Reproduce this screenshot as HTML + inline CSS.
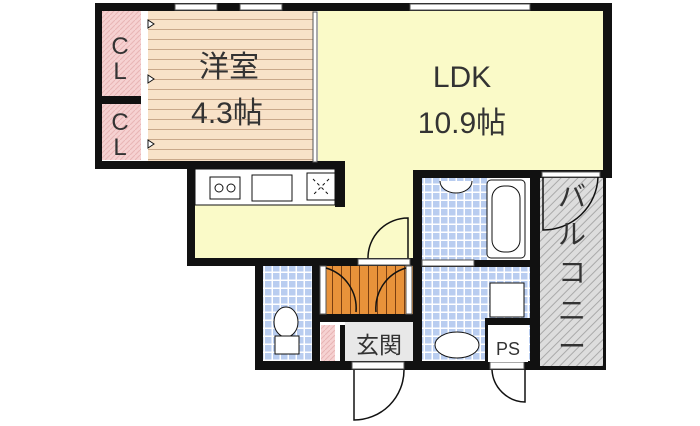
<!DOCTYPE html>
<html><head><meta charset="utf-8"><style>
body{margin:0;background:#fff;width:700px;height:426px;overflow:hidden}
svg{display:block}
text{font-family:"Liberation Sans","Noto Sans CJK JP",sans-serif;fill:#333}
</style></head><body>
<svg width="700" height="426" viewBox="0 0 700 426" xmlns="http://www.w3.org/2000/svg">
<defs>
<pattern id="wood" width="10" height="10" patternUnits="userSpaceOnUse"><rect width="10" height="10" fill="#f8e2c8"/><line x1="0" y1="9.5" x2="10" y2="9.5" stroke="#c9a88a" stroke-width="1"/></pattern>
<pattern id="pink" width="5" height="5" patternUnits="userSpaceOnUse"><rect width="5" height="5" fill="#f6d2d2"/><line x1="0" y1="5" x2="5" y2="0" stroke="#e8b5b5" stroke-width="1"/></pattern>
<pattern id="tile" width="8" height="8" patternUnits="userSpaceOnUse"><rect width="8" height="8" fill="#fff"/><rect x="1" y="1" width="6.5" height="6.5" fill="#b9cdf0"/></pattern>
<pattern id="gray" width="6" height="6" patternUnits="userSpaceOnUse" patternTransform="rotate(45)"><rect width="6" height="6" fill="#ddd"/><line x1="0" y1="0" x2="0" y2="6" stroke="#aaa" stroke-width="2"/></pattern>
<pattern id="orange" width="9" height="9" patternUnits="userSpaceOnUse"><rect width="9" height="9" fill="#e8923a"/><line x1="8.5" y1="0" x2="8.5" y2="9" stroke="#7a3e10" stroke-width="1"/></pattern>
</defs>
<rect x="318" y="10" width="286" height="162" fill="#fafac8"/>
<rect x="195" y="168" width="220" height="92" fill="#fafac8"/>
<rect x="148" y="10" width="166" height="152" fill="url(#wood)"/>
<rect x="101" y="10" width="40" height="86" fill="url(#pink)"/>
<rect x="101" y="104" width="40" height="56" fill="url(#pink)"/>
<rect x="141" y="10" width="7" height="152" fill="#fff"/>
<rect x="540" y="175" width="63" height="193" fill="url(#gray)"/>
<rect x="422" y="178" width="65" height="82" fill="url(#tile)"/>
<rect x="422" y="266" width="108" height="96" fill="url(#tile)"/>
<rect x="263" y="266" width="50" height="96" fill="url(#tile)"/>
<rect x="320" y="266" width="94" height="48" fill="url(#orange)"/>
<rect x="345" y="322" width="68" height="40" fill="#e8e8e8"/>
<rect x="321" y="325" width="14" height="37" fill="url(#pink)"/>
<g fill="#111">
<rect x="95" y="3" width="517" height="8"/>
<rect x="95" y="3" width="7" height="166"/>
<rect x="603" y="3" width="9" height="170"/>
<rect x="95" y="161" width="250" height="8"/>
<rect x="101" y="96" width="40" height="8"/>
<rect x="187" y="161" width="8" height="104"/>
<rect x="335" y="161" width="10" height="46"/>
<rect x="187" y="258" width="228" height="8"/>
<rect x="413" y="170" width="9" height="200"/>
<rect x="413" y="170" width="199" height="8"/>
<rect x="530" y="170" width="10" height="200"/>
<rect x="255" y="258" width="8" height="112"/>
<rect x="255" y="361" width="285" height="9"/>
<rect x="312" y="266" width="8" height="96"/>
<rect x="413" y="260" width="122" height="7"/>
<rect x="320" y="314" width="94" height="8"/>
<rect x="485" y="318" width="45" height="7"/>
<rect x="485" y="318" width="4" height="44"/>
<rect x="340" y="325" width="5" height="37"/>
<rect x="603" y="172" width="3" height="198"/>
<rect x="540" y="366" width="66" height="4"/>
</g>
<g fill="#fff" stroke="#555" stroke-width="1">
<rect x="175" y="4" width="42" height="6"/><rect x="240" y="4" width="42" height="6"/>
<rect x="410" y="4" width="120" height="6"/>
<rect x="313" y="12" width="4" height="150"/>
<rect x="358" y="259" width="52" height="6"/>
<rect x="422" y="260" width="52" height="6"/>
<rect x="320" y="266" width="6" height="48"/><rect x="406" y="266" width="6" height="48"/>
<rect x="352" y="362" width="52" height="7"/><rect x="490" y="362" width="34" height="7"/>
<rect x="542" y="172" width="58" height="5"/>
</g>
<g fill="none" stroke="#111" stroke-width="1.5">
<path d="M368 258 A40 40 0 0 1 408 218 L408 258"/>
<path d="M326 268 A42 42 0 0 1 356 312"/>
<path d="M406 268 A42 42 0 0 0 376 312"/>
<path d="M354 370 L354 420 A50 50 0 0 0 404 370"/>
<path d="M525 370 L525 402 A34 34 0 0 1 492 370"/>
<path d="M543 177 L543 230 A55 55 0 0 0 598 177"/>
</g>
<g fill="#fff" stroke="#111"><path d="M148 20 l6 4 -6 4z"/><path d="M148 75 l6 4 -6 4z"/><path d="M148 140 l6 4 -6 4z"/></g>
<rect x="195" y="169" width="140" height="36" fill="#fff" stroke="#111"/>
<rect x="210" y="177" width="30" height="22" fill="#fff" stroke="#111"/>
<circle cx="219" cy="188" r="4" fill="none" stroke="#111"/><circle cx="231" cy="188" r="4" fill="none" stroke="#111"/>
<rect x="252" y="175" width="40" height="26" fill="#fff" stroke="#111"/>
<rect x="307" y="173" width="28" height="27" fill="#fff" stroke="#111"/>
<path d="M313 179 l16 16 M329 179 l-16 16" stroke="#111" stroke-dasharray="3 3"/>
<rect x="487" y="180" width="38" height="78" rx="4" fill="#fff" stroke="#111"/>
<rect x="492" y="186" width="28" height="66" rx="12" fill="#fff" stroke="#111"/>
<path d="M440 181 A16 12 0 0 0 472 181" fill="#fff" stroke="#111"/>
<rect x="490" y="283" width="34" height="34" fill="#fff" stroke="#111"/>
<ellipse cx="457" cy="345" rx="22" ry="13" fill="#fff" stroke="#111"/>
<rect x="488" y="325" width="40" height="37" fill="#fff"/>
<ellipse cx="286" cy="322" rx="12" ry="15" fill="#fff" stroke="#111"/>
<rect x="275" y="336" width="24" height="18" fill="#fff" stroke="#111"/>
<text x="120" y="54" font-size="24" text-anchor="middle">C</text>
<text x="120" y="79" font-size="24" text-anchor="middle">L</text>
<text x="120" y="130" font-size="24" text-anchor="middle">C</text>
<text x="120" y="155" font-size="24" text-anchor="middle">L</text>
<text x="229" y="77" font-size="30" text-anchor="middle">洋室</text>
<text x="227" y="123" font-size="30" text-anchor="middle">4.3帖</text>
<text x="462" y="87" font-size="30" text-anchor="middle">LDK</text>
<text x="462" y="133" font-size="30" text-anchor="middle">10.9帖</text>
<text x="379" y="353" font-size="23" text-anchor="middle">玄関</text>
<text x="508" y="355" font-size="18" text-anchor="middle">PS</text>
<text x="572" y="206" font-size="28" text-anchor="middle">バ</text>
<text x="572" y="244" font-size="28" text-anchor="middle">ル</text>
<text x="572" y="282" font-size="28" text-anchor="middle">コ</text>
<text x="572" y="320" font-size="28" text-anchor="middle">ニ</text>
<text x="572" y="356" font-size="28" text-anchor="middle">ー</text>
</svg>
</body></html>
